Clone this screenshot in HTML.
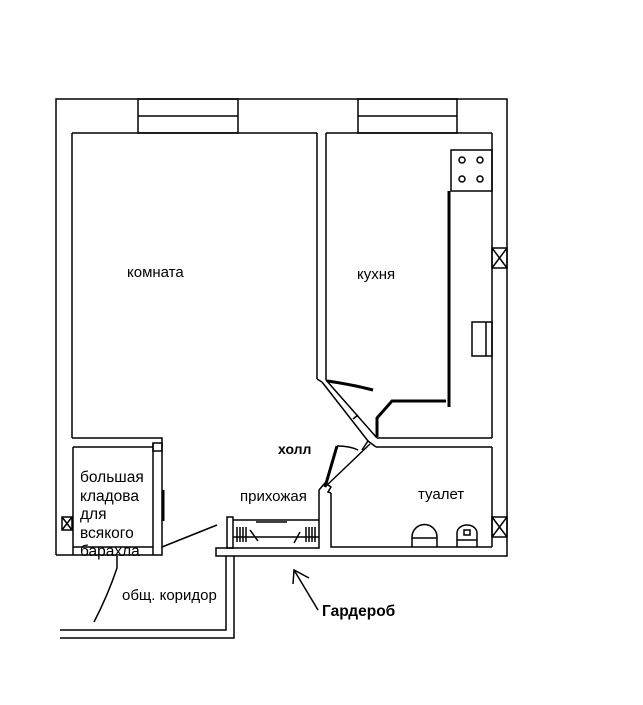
<!DOCTYPE html>
<html><head><meta charset="utf-8"><style>
html,body{margin:0;padding:0;background:#fff;}
svg{display:block;}
text{font-family:"Liberation Sans",sans-serif;fill:#000;}
</style></head><body>
<svg width="643" height="705" viewBox="0 0 643 705" xmlns="http://www.w3.org/2000/svg">
<g stroke="#000" stroke-width="1.5" fill="none">
<polyline points="56,555 56,99 507,99 507,556 216,556 216,548 319,548 319,490"/>
<line x1="72" y1="133" x2="72" y2="438"/>
<line x1="72" y1="133" x2="317" y2="133"/>
<line x1="317" y1="133" x2="317" y2="379"/>
<line x1="326" y1="133" x2="326" y2="380"/>
<line x1="326" y1="133" x2="492" y2="133"/>
<line x1="492" y1="133" x2="492" y2="438"/>
<line x1="492" y1="447" x2="492" y2="547"/>
<rect x="138" y="99" width="100" height="34"/>
<line x1="138" y1="116" x2="238" y2="116"/>
<rect x="358" y="99" width="99" height="34"/>
<line x1="358" y1="116" x2="457" y2="116"/>
<rect x="451" y="150" width="41" height="41"/>
<circle cx="462" cy="160" r="3"/><circle cx="480" cy="160" r="3"/>
<circle cx="462" cy="179" r="3"/><circle cx="480" cy="179" r="3"/>
<rect x="472" y="322" width="20" height="34"/>
<line x1="486" y1="322" x2="486" y2="356"/>
<rect x="492" y="248" width="15" height="20"/>
<line x1="492" y1="248" x2="507" y2="268"/><line x1="507" y1="248" x2="492" y2="268"/>
<rect x="492" y="517" width="15" height="20"/>
<line x1="492" y1="517" x2="507" y2="537"/><line x1="507" y1="517" x2="492" y2="537"/>
<rect x="62" y="517" width="10" height="13"/>
<line x1="62" y1="517" x2="72" y2="530"/><line x1="72" y1="517" x2="62" y2="530"/>
<polyline points="377,438 492,438"/>
<polyline points="376,447 492,447"/>
<polyline points="331,493 331,547 492,547"/>
<line x1="317" y1="379" x2="322" y2="382"/>
<line x1="322" y1="382" x2="368" y2="441"/>
<line x1="326" y1="380" x2="377" y2="438"/>
<polyline points="353,419 358,415"/>
<polyline points="362,450 368,441 376,447"/>
<polyline points="319,490 325,483 331,487 328,492 331,493"/>
<line x1="325" y1="487" x2="370" y2="444"/>
<path d="M337,446 Q350,446 358,450"/>
</g>
<g stroke="#000" stroke-width="3" fill="none">
<line x1="449" y1="191" x2="449" y2="407"/>
<polyline points="446,401 392,401 377,418 377,437"/>
<path d="M327,381 Q350,384 373,390"/>
<line x1="325" y1="487" x2="337" y2="446"/>
<line x1="163" y1="490" x2="163" y2="521"/>
</g>
<g stroke="#000" stroke-width="1.5" fill="none">
<polyline points="72,438 162,438 162,555 56,555"/>
<line x1="73" y1="447" x2="153" y2="447"/>
<line x1="153" y1="443" x2="153" y2="555"/>
<line x1="73" y1="447" x2="73" y2="555"/>
<line x1="73" y1="547" x2="153" y2="547"/>
<rect x="153" y="443" width="9" height="8"/>
<line x1="162" y1="547" x2="217" y2="525"/>
<path d="M117,556 L117,568 Q108,595 94,622"/>
<polyline points="60,630 226,630 226,556"/>
<polyline points="60,638 234,638 234,556"/>
<rect x="227" y="517" width="6" height="31"/>
<line x1="233" y1="520" x2="319" y2="520"/>
<line x1="233" y1="537" x2="319" y2="537"/>
<line x1="256" y1="522" x2="287" y2="522"/>
<path d="M237,527 v15 M240,527 v15 M243,527 v15 M246,527 v15 M306,527 v15 M309,527 v15 M312,527 v15 M315,527 v15"/>
<line x1="250" y1="530" x2="258" y2="541"/>
<line x1="300" y1="532" x2="294" y2="543"/>
<path d="M412,547 L412,537 A12.5,12.5 0 0 1 437,537 L437,547"/>
<line x1="412" y1="538" x2="437" y2="538"/>
<path d="M457,547 L457,533 A10,8 0 0 1 477,533 L477,547"/>
<rect x="464" y="530" width="6" height="5"/>
<line x1="457" y1="540" x2="477" y2="540"/>
<line x1="318" y1="610" x2="294" y2="570"/>
<polyline points="309,578 294,570 293,584"/>
</g>
<g font-size="15">
<text x="127" y="277">комната</text>
<text x="357" y="279">кухня</text>
<text x="240" y="501">прихожая</text>
<text x="418" y="499">туалет</text>
<text x="122" y="600">общ. коридор</text>
<text x="80" y="482" font-size="15.5">большая</text>
<text x="80" y="501" font-size="15.5">кладова</text>
<text x="80" y="519" font-size="15.5">для</text>
<text x="80" y="538" font-size="15.5">всякого</text>
<text x="80" y="556" font-size="15.5">барахла</text>
<text x="278" y="454" font-weight="bold" font-size="14">холл</text>
<text x="322" y="616" font-weight="bold" font-size="15.5">Гардероб</text>
</g>
</svg>
</body></html>
